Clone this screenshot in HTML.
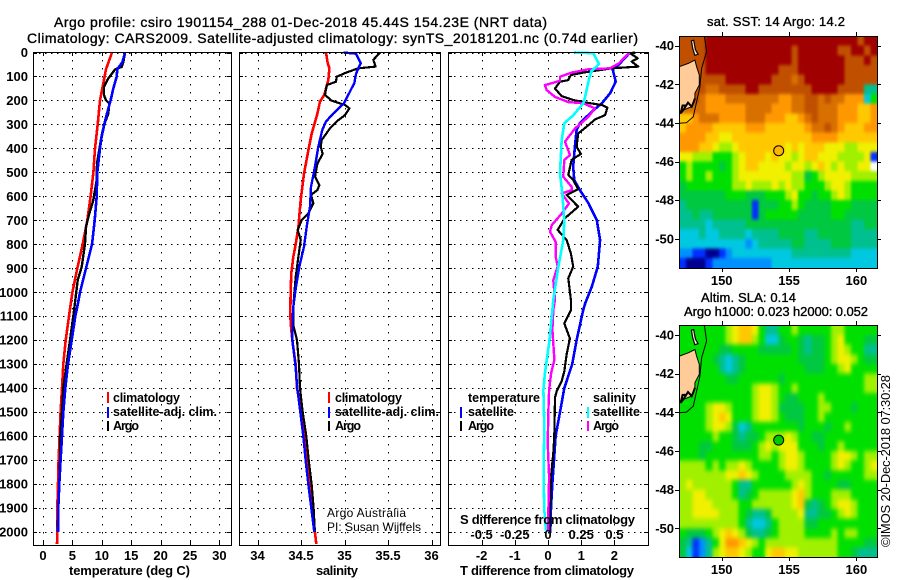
<!DOCTYPE html>
<html lang="en">
<head>
<meta charset="utf-8">
<title>Argo profile</title>
<style>
html,body{margin:0;padding:0;background:#fff;}
svg{display:block;}
text{font-family:"Liberation Sans",sans-serif;fill:#000;}
.b{font-size:13px;font-weight:bold;}
.l{font-size:12.5px;font-weight:bold;}
.tt{font-size:14px;font-weight:normal;stroke:#000;stroke-width:.35px;}
.n{font-size:13px;font-weight:normal;}
</style>
</head>
<body>
<svg id="chart" xmlns="http://www.w3.org/2000/svg" width="900" height="580" viewBox="0 0 900 580">
  <defs>
    <filter id="blurSst" x="-5%" y="-5%" width="110%" height="110%" color-interpolation-filters="sRGB"><feGaussianBlur stdDeviation="1.3 1.6"/></filter>
    <filter id="blurSla" x="-5%" y="-5%" width="110%" height="110%" color-interpolation-filters="sRGB"><feGaussianBlur stdDeviation="1.8 2.4"/></filter>
  </defs>
  <rect x="0" y="0" width="900" height="580" fill="#fff"/>
  <text class="tt" x="54" y="27" textLength="493" lengthAdjust="spacing">Argo profile: csiro 1901154_288 01-Dec-2018 45.44S 154.23E (NRT data)</text>
  <text class="tt" x="27" y="43" textLength="611" lengthAdjust="spacing">Climatology: CARS2009. Satellite-adjusted climatology: synTS_20181201.nc (0.74d earlier)</text>
  <g id="panels"></g>
  <g id="maps"></g>

  <text class="b" x="69" y="575" textLength="121" lengthAdjust="spacing">temperature (deg C)</text>
  <text class="b" x="316" y="575" textLength="42" lengthAdjust="spacing">salinity</text>
  <text class="b" x="460" y="575" textLength="174" lengthAdjust="spacing">T difference from climatology</text>
  <text class="b" x="460" y="524" textLength="175" lengthAdjust="spacing">S difference from climatology</text>

  <g>
    <rect x="107" y="392" width="2" height="11" fill="#f00"/>
    <text class="l" x="113" y="402" textLength="67" lengthAdjust="spacing">climatology</text>
    <rect x="107" y="407" width="2" height="11" fill="#00f"/>
    <text class="l" x="113" y="416" textLength="104" lengthAdjust="spacing">satellite-adj. clim.</text>
    <rect x="107" y="421" width="2" height="10" fill="#000"/>
    <text class="l" x="113" y="430" textLength="26" lengthAdjust="spacing">Argo</text>
  </g>
  <g>
    <rect x="328" y="392" width="2" height="11" fill="#f00"/>
    <text class="l" x="335" y="402" textLength="67" lengthAdjust="spacing">climatology</text>
    <rect x="328" y="407" width="2" height="11" fill="#00f"/>
    <text class="l" x="335" y="416" textLength="104" lengthAdjust="spacing">satellite-adj. clim.</text>
    <rect x="328" y="421" width="2" height="10" fill="#000"/>
    <text class="l" x="335" y="430" textLength="26" lengthAdjust="spacing">Argo</text>
  </g>
  <g>
    <text class="l" x="468" y="402" textLength="72" lengthAdjust="spacing">temperature</text>
    <rect x="460" y="407" width="2" height="11" fill="#00f"/>
    <text class="l" x="468" y="416" textLength="46" lengthAdjust="spacing">satellite</text>
    <rect x="460" y="421" width="2" height="10" fill="#000"/>
    <text class="l" x="468" y="430" textLength="26" lengthAdjust="spacing">Argo</text>
    <text class="l" x="593" y="402" textLength="43" lengthAdjust="spacing">salinity</text>
    <rect x="587" y="407" width="2" height="11" fill="#0ff"/>
    <text class="l" x="593" y="416" textLength="47" lengthAdjust="spacing">satellite</text>
    <rect x="587" y="421" width="2" height="10" fill="#f0f"/>
    <text class="l" x="593" y="430" textLength="26" lengthAdjust="spacing">Argo</text>
  </g>

  <text class="n" x="327" y="517" textLength="79" lengthAdjust="spacing" style="font-size:12px">Argo Australia</text>
  <text class="n" x="327" y="531" textLength="94" lengthAdjust="spacing" style="font-size:12px">PI: Susan Wijffels</text>

  <text class="tt" x="707" y="26" textLength="138" lengthAdjust="spacing" style="font-size:13px">sat. SST: 14 Argo: 14.2</text>
  <text class="tt" x="701" y="302" textLength="95" lengthAdjust="spacing" style="font-size:13px">Altim. SLA: 0.14</text>
  <text class="tt" x="684" y="316" textLength="184" lengthAdjust="spacing" style="font-size:13px">Argo h1000: 0.023 h2000: 0.052</text>
  <text class="n" transform="translate(890,547) rotate(-90)" textLength="172" lengthAdjust="spacing">©IMOS 20-Dec-2018 07:30:28</text>
</svg>
<script>
// ---------- axis values ----------
const depthTicks = [0,100,200,300,400,500,600,700,800,900,1000,1100,1200,1300,1400,1500,1600,1700,1800,1900,2000];
const tempTicks = [0,5,10,15,20,25,30];
const salTicks = [34,34.5,35,35.5,36];
const salTickLabels = ['34','34.5','35','35.5','36'];
const diffTTicks = [-2,-1,0,1,2];
const diffSTicks = [-0.5,-0.25,0,0.25,0.5];
const diffSTickLabels = ['-0.5','-0.25','0','0.25','0.5'];
const lonTicks = [150,155,160];
const latTicks = [-40,-42,-44,-46,-48,-50];

// ---------- temperature panel ----------
const tempClimDepth = [0,70,200,300,400,500,600,700,800,900,1000,1100,1200,1300,1400,1500,1600,1700,1800,1900,2000,2050];
const tempClim = [11.73,10.71,9.7,9.3,8.85,8.57,8.1,7.54,6.75,5.84,5.0,4.42,3.86,3.46,3.23,3.0,2.83,2.66,2.55,2.44,2.44,2.38];
const tempSatDepth = [0,40,70,100,150,200,250,300,350,400,500,600,700,800,900,1000,1040,1100,1200,1300,1400,1500,1600,1700,1800,1900,2000];
const tempSat = [13.96,13.5,12.64,12.53,11.96,11.5,10.94,10.43,9.98,9.7,9.24,9.13,8.79,8.33,7.31,6.29,6,5.5,4.88,4.25,3.8,3.46,3.23,3,2.78,2.6,2.55];
const tempArgoDepth = [0,40,60,71,108,143,178,199,213,255,303,345,463,533,574,616,672,727,797,894,950,1033,1100,1200,1300,1400,1500,1600,1700,1800,1900,2000];
const tempArgo = [13.96,13.66,13.38,12.25,11.11,10.37,10.37,10.71,11.28,11.11,10.37,9.98,9.18,9.13,8.84,8.56,7.88,7.31,7.14,6.58,5.9,5.5,5.16,4.59,4.02,3.46,3.23,2.95,2.89,2.78,2.6,2.49];

// ---------- salinity panel ----------
const salClimDepth = [0,44,66,115,177,205,255,338,394,505,615,727,800,852,921,1005,1100,1143,1200,1300,1400,1500,1600,1700,1800,1900,2000,2050];
const salClim = [34.787,34.807,34.826,34.814,34.768,34.718,34.688,34.623,34.592,34.535,34.496,34.47,34.439,34.412,34.389,34.381,34.377,34.385,34.40,34.438,34.454,34.507,34.546,34.565,34.6,34.63,34.66,34.676];
const salSatDepth = [0,5,45,66,90,128,157,212,254,288,323,393,476,560,643,727,810,894,977,1060,1116,1200,1300,1400,1500,1600,1700,1800,1900,2000];
const salSat = [34.987,35.132,35.186,35.159,35.132,35.113,35.071,34.994,34.872,34.787,34.745,34.699,34.661,34.615,34.604,34.565,34.535,34.481,34.443,34.412,34.404,34.40,34.434,34.457,34.492,34.526,34.553,34.584,34.618,34.653];
const salArgoDepth = [0,31,59,66,83,101,122,136,177,201,219,233,261,282,316,365,393,423,463,518,553,574,594,629,671,699,740,782,852,935,1060,1102,1143,1200,1300,1400,1500,1600,1700,1800,1900,2000];
const salArgo = [35.408,35.331,35.358,35.159,35.025,34.91,34.902,34.795,34.776,34.853,35.006,35.056,35.006,34.929,34.833,34.738,34.726,34.749,34.688,34.661,34.711,34.688,34.615,34.642,34.584,34.508,34.462,34.496,34.47,34.439,34.412,34.412,34.415,34.454,34.477,34.488,34.519,34.561,34.588,34.622,34.645,34.66];

// ---------- difference panel ----------
const diffTSatDepth = [0,52,70,122,170,212,247,295,323,393,476,532,574,629,699,782,893,977,1046,1074,1200,1300,1400,1500,1600,1700,1800,1900,2000];
const diffTSat = [2.47,2.12,1.95,2.04,1.87,1.62,1.32,0.96,0.86,0.81,0.76,0.79,0.96,1.22,1.47,1.57,1.5,1.32,1.12,1.06,0.86,0.73,0.49,0.36,0.23,0.18,0.13,0.09,0.07];
const diffTArgoDepth = [0,3,24,38,59,66,84,94,115,122,150,182,198,208,219,230,261,279,303,338,393,423,448,510,532,570,594,643,691,740,782,838,893,942,1032,1074,1130,1193,1260,1330,1372,1414,1440,1600,1670,1770,1910,1994];
const diffTArgo = [2.62,2.47,2.70,2.52,2.72,1.92,1.06,0.69,0.61,0.36,0.21,0.41,0.76,1.11,1.62,1.79,1.72,1.42,1.22,0.91,0.86,0.99,0.71,0.61,0.76,0.91,0.56,0.91,0.51,0.29,0.56,0.69,0.76,0.61,0.69,0.69,0.49,0.66,0.56,0.49,0.41,0.26,0.21,0.19,0.16,0.09,0.06,0.05];
const diffSArgoDepth = [0,45,66,70,84,101,118,136,157,185,207,212,233,268,317,372,428,448,518,560,574,588,630,672,720,748,790,852,893,949,1032,1074,1157,1282,1338,1408,1491,1630,1770,1908,1994];
const diffSArgo = [0.612,0.535,0.467,0.304,0.178,0.09,0.09,-0.023,-0.01,0.053,0.153,0.266,0.354,0.304,0.203,0.128,0.166,0.123,0.115,0.178,0.178,0.103,0.158,0.103,0.028,0.015,0.058,0.058,0.073,0.04,0.053,0.04,0.033,0.048,0.023,0.008,0.003,-0.002,0.008,0.003,0.003];
const diffSSatDepth = [0,3,48,80,122,185,212,261,295,365,504,588,699,782,893,1032,1074,1213,1338,1408,1560,1770,1908,1994];
const diffSSat = [0.198,0.341,0.384,0.324,0.304,0.279,0.266,0.191,0.123,0.103,0.09,0.108,0.123,0.115,0.078,0.04,0.033,0.008,-0.023,-0.035,-0.028,-0.033,-0.028,-0.015];

// ---------- map values (colour-band index, -1 = no data) ----------
const sstRows = [
[12,12,12,12,13,13,13,13,13,13,13,13,13,13,13,13,13,13,13,13,13,13,13,13,13,13,13,12,13,13],
[12,12,12,12,13,13,13,13,13,13,13,13,13,13,13,13,13,12,13,13,13,13,13,13,12,12,13,13,12,13],
[12,12,12,12,13,13,13,13,13,13,13,13,13,13,13,13,13,12,13,13,13,13,13,13,13,12,12,12,13,12],
[12,12,12,12,13,13,13,13,13,13,13,13,13,13,13,12,12,12,13,13,13,13,13,13,13,12,12,12,12,12],
[12,12,12,12,12,12,12,13,13,13,13,13,13,13,12,12,12,11,12,13,13,13,13,13,13,12,12,12,12,12],
[12,12,12,12,11,11,12,12,12,12,13,13,12,12,12,12,12,12,12,12,13,13,13,13,12,12,12,12,4,4],
[12,12,12,11,10,10,10,11,11,11,11,11,11,11,11,10,10,11,11,12,12,11,12,11,11,10,10,10,3,6],
[11,11,11,11,10,10,10,10,10,10,11,11,11,11,10,10,10,11,11,12,12,11,11,11,10,10,10,9,9,10],
[9,9,10,11,11,11,10,10,10,10,11,11,11,10,10,10,9,9,10,11,12,11,11,11,10,10,10,9,9,10],
[9,10,10,10,10,9,9,9,9,9,10,10,10,9,9,9,9,9,9,10,11,11,12,11,10,9,9,9,10,10],
[10,10,10,10,9,9,8,8,9,9,9,9,9,9,9,9,9,9,9,9,10,10,10,10,9,9,9,9,9,9],
[10,10,10,9,9,8,7,7,8,9,9,9,9,9,9,9,8,9,8,9,9,9,8,8,8,7,7,8,8,8],
[8,8,7,7,7,6,6,6,7,8,9,9,9,8,9,8,8,7,8,9,9,8,8,8,7,7,7,7,8,1],
[6,7,6,6,6,6,5,6,7,8,9,9,8,8,8,8,7,8,8,7,8,9,8,7,8,7,7,8,8,-1],
[6,7,6,6,7,6,6,6,7,8,8,8,8,8,8,8,8,7,7,5,6,7,8,8,8,8,7,7,7,7],
[5,6,6,6,6,6,6,6,7,7,8,7,7,7,8,7,8,7,7,6,6,6,7,8,8,7,6,6,6,6],
[5,5,5,5,5,5,5,6,6,6,5,5,5,6,6,6,7,8,6,6,5,6,6,7,8,7,6,6,6,6],
[4,5,5,5,5,5,5,5,5,5,5,1,5,5,5,6,6,7,6,5,5,5,5,6,6,6,5,5,5,5],
[4,4,5,4,4,5,5,5,5,5,5,1,5,6,6,6,6,6,5,5,5,5,5,6,6,5,5,5,5,5],
[4,4,4,4,3,4,4,4,4,4,5,5,5,5,5,5,5,5,5,5,5,5,5,5,5,5,4,4,5,5],
[3,3,3,4,3,3,4,4,4,4,3,4,4,4,4,5,5,5,5,4,4,5,5,5,5,5,4,4,4,4],
[3,3,3,3,3,3,3,3,3,3,2,3,4,4,4,4,4,5,5,4,4,4,4,5,5,5,4,4,4,4],
[2,2,1,1,0,0,1,2,3,3,3,3,3,3,3,3,3,4,4,4,4,4,4,4,4,4,3,3,3,3],
[1,0,0,0,1,2,2,2,2,2,2,2,2,2,3,3,3,3,3,3,3,3,3,3,3,3,3,3,3,3]
];
const slaRows = [
[6,6,6,6,6,6,6,7,8,9,9,8,6,4,4,6,6,7,6,6,6,6,6,7,7,6,6,6,6,6],
[6,6,6,6,6,6,6,7,8,9,9,7,6,3,3,5,6,6,5,4,5,5,6,7,8,6,6,6,5,5],
[6,6,6,6,6,6,5,5,6,6,6,6,5,5,5,5,5,6,5,4,5,5,6,7,8,7,6,6,4,4],
[6,6,6,6,6,5,4,3,4,5,6,6,6,6,6,6,6,6,5,5,5,5,6,7,8,8,7,6,5,5],
[6,6,6,6,6,6,4,3,4,5,6,6,6,6,6,6,6,6,6,5,5,5,6,6,7,8,6,6,6,6],
[6,6,6,6,6,6,6,5,5,6,6,6,6,6,6,5,6,6,6,6,6,6,6,6,6,6,6,6,7,7],
[6,6,6,6,6,6,6,6,6,6,6,7,8,8,7,6,6,7,6,6,6,6,6,6,6,6,6,6,7,7],
[6,6,6,6,6,6,6,6,6,6,6,7,8,8,7,6,5,5,6,6,6,7,6,6,6,6,6,6,6,6],
[6,6,6,6,7,8,8,7,6,6,6,7,8,8,7,5,5,5,5,6,6,7,7,6,6,6,5,6,6,6],
[6,6,6,6,7,8,9,8,6,6,6,7,8,8,7,6,5,5,5,6,6,7,6,6,6,6,6,6,6,6],
[6,6,6,6,7,8,8,7,5,3,4,6,6,6,6,6,6,6,5,6,6,6,5,6,6,7,6,6,6,6],
[6,6,6,6,6,7,6,6,5,4,5,5,6,7,7,7,8,7,6,6,5,5,6,6,6,6,6,6,6,6],
[6,6,6,5,5,6,6,6,5,5,5,6,7,8,7,8,8,8,6,6,6,5,6,6,7,6,6,6,6,6],
[6,6,6,5,6,6,6,6,6,6,6,6,7,7,6,7,8,8,7,6,6,6,6,7,8,8,7,6,7,7],
[7,7,7,7,6,7,6,7,7,8,7,6,6,6,6,7,8,8,7,6,6,6,6,7,8,7,6,6,7,8],
[7,7,7,7,7,7,7,8,8,9,8,7,6,6,6,6,7,7,7,7,6,6,5,6,6,6,6,6,7,7],
[7,8,7,7,7,7,7,7,6,4,4,6,6,6,6,6,6,7,8,7,6,6,6,6,5,5,6,6,6,6],
[7,7,8,8,7,7,7,7,6,4,5,6,7,7,7,7,7,8,9,7,6,6,6,7,7,7,6,6,6,6],
[7,7,8,8,8,7,7,7,7,6,6,7,7,7,7,7,7,8,9,5,4,5,6,7,8,8,7,6,6,6],
[7,7,8,8,8,8,7,7,7,6,5,4,4,5,7,7,7,7,8,4,4,5,5,6,7,8,7,6,6,6],
[7,7,7,7,7,7,7,7,7,6,4,3,3,4,6,7,7,7,7,5,5,6,6,6,6,6,6,6,6,6],
[6,5,5,5,6,7,8,9,8,7,5,4,4,5,6,7,7,7,7,6,6,6,6,7,6,7,7,6,6,6],
[5,4,1,2,4,6,8,10,10,9,8,7,6,7,7,7,7,7,7,7,7,7,7,7,6,6,6,6,5,5],
[5,3,1,2,4,7,8,9,9,8,7,6,6,8,9,9,8,8,7,7,7,7,7,7,6,6,5,4,4,4]
];
const landLon = [146.85,147.52,148.01,148.14,148.34,148.34,148.01,148.01,147.77,147.15,146.95,146.85];
const landLat = [-41.09,-40.92,-40.75,-41.09,-41.52,-42.04,-42.47,-42.73,-43.16,-43.33,-43.5,-43.33];
const southCoastLon = [148.01,147.9,147.77,147.5,147.15,146.95,147.1,147.4];
const southCoastLat = [-42.73,-42.95,-43.16,-42.95,-43.33,-43.5,-43.1,-43.1];
const islandLon = [147.75,147.92,148.05,148.25,148.0,147.85];
const islandLat = [-39.75,-39.72,-40.2,-40.45,-40.5,-40.14];
const contourLon = [148.71,148.88,148.51,148.38,147.89,147.39,146.85];
const contourLat = [-39.47,-40.31,-41.18,-42.13,-43.68,-43.99,-44.02];
const floatLon = 154.23;
const floatLat = -45.44;

// ---------- colour bands (style, not data) ----------
const bandColors = ['#000090','#0030ff','#0090ff','#00c8e0','#00c090','#00c840','#00e000','#a0f000','#f0f000','#ffc800','#ff9800','#d87000','#c05000','#a00000'];

// ---------- axis functions ----------
const yDepth = d => 52.5 + d * 0.23975;
const xTemp = v => 43 + v * 5.88;
const xSal = v => 257.5 + (v - 34) * 87;
const xDiffT = v => 548 + v * 33.2;
const xDiffS = v => 548 + v * 132.8;
const lonX = lon => 721.7 + (lon - 150) * 13.47;
const latY1 = lat => 45.6 + (-40 - lat) * 19.33;
const latY2 = lat => 335 + (-40 - lat) * 19.33;

const NS = 'http://www.w3.org/2000/svg';
function make(tag, parent, attrs, text) {
  const e = document.createElementNS(NS, tag);
  for (const k in attrs) e.setAttribute(k, attrs[k]);
  if (text !== undefined) e.textContent = text;
  parent.appendChild(e);
  return e;
}

const PANEL_TOP = 52;
const PANEL_BOTTOM = 545;

function gridAndTicks(g, left, right, xValues, xFn) {
  depthTicks.forEach(d => {
    const y = Math.round(yDepth(d)) + 0.5;
    const grid = make('line', g, {x1:left, x2:right, y1:y, y2:y, stroke:'#000', 'stroke-width':1, 'stroke-dasharray':'1.5 4.5', 'shape-rendering':'crispEdges'});
    
    
    const t1 = make('line', g, {x1:left, x2:left + 4, y1:y, y2:y, stroke:'#000', 'shape-rendering':'crispEdges'});
    
    
    const t2 = make('line', g, {x1:right - 4, x2:right, y1:y, y2:y, stroke:'#000', 'shape-rendering':'crispEdges'});
    
    
  });
  xValues.forEach(v => {
    const x = Math.round(xFn(v)) + 0.5;
    const grid = make('line', g, {x1:x, x2:x, y1:PANEL_TOP, y2:PANEL_BOTTOM, stroke:'#000', 'stroke-width':1, 'stroke-dasharray':'1.5 6.5', 'shape-rendering':'crispEdges'});
    
    
    const t1 = make('line', g, {x1:x, x2:x, y1:PANEL_BOTTOM - 4, y2:PANEL_BOTTOM, stroke:'#000', 'shape-rendering':'crispEdges'});
    
    
    const t2 = make('line', g, {x1:x, x2:x, y1:PANEL_TOP, y2:PANEL_TOP + 4, stroke:'#000', 'shape-rendering':'crispEdges'});
    
    
  });
}

function frame(g, left, right, name) {
  const r = make('rect', g, {x:left + 0.5, y:PANEL_TOP + 0.5, width:right - left, height:PANEL_BOTTOM - PANEL_TOP, fill:'none', stroke:'#000', 'stroke-width':1, 'shape-rendering':'crispEdges'});
  
  
}

function series(g, name, color, depths, values, xFn, width) {
  const pts = depths.map((d, i) => xFn(values[i]).toFixed(1) + ',' + yDepth(d).toFixed(1)).join(' ');
  const p = make('polyline', g, {points:pts, fill:'none', stroke:color, 'stroke-width':width, 'shape-rendering':'crispEdges', 'stroke-linejoin':'round'});
  
  
}

function xLabels(g, values, labels, xFn, y, name) {
  values.forEach((v, i) => {
    const t = make('text', g, {x:xFn(v), y:y, 'text-anchor':'middle', class:'b'}, labels[i]);
    
    
  });
}

const panels = document.getElementById('panels');

// panel 1: temperature
const p1 = make('g', panels, {});


gridAndTicks(p1, 33, 231, tempTicks, xTemp);
series(p1, 'temperature-climatology-line', '#f00', tempClimDepth, tempClim, xTemp, 2.6);
series(p1, 'temperature-argo-line', '#000', tempArgoDepth, tempArgo, xTemp, 2.4);
series(p1, 'temperature-satellite-line', '#00f', tempSatDepth, tempSat, xTemp, 2.6);
frame(p1, 33, 231, 'temperature-panel-frame');
xLabels(p1, tempTicks, tempTicks.map(String), xTemp, 560, 'temperature-tick-label');
depthTicks.forEach(d => {
  const t = make('text', p1, {x:28, y:yDepth(d) + 4.5, 'text-anchor':'end', class:'b'}, String(d));
  
  
});

// panel 2: salinity
const p2 = make('g', panels, {});


gridAndTicks(p2, 239, 440, salTicks, xSal);
series(p2, 'salinity-climatology-line', '#f00', salClimDepth, salClim, xSal, 2.6);
series(p2, 'salinity-argo-line', '#000', salArgoDepth, salArgo, xSal, 2.2);
series(p2, 'salinity-satellite-line', '#00f', salSatDepth, salSat, xSal, 2.4);
frame(p2, 239, 440, 'salinity-panel-frame');
xLabels(p2, salTicks, salTickLabels, xSal, 560, 'salinity-tick-label');

// panel 3: differences
const p3 = make('g', panels, {});


gridAndTicks(p3, 448, 648, diffTTicks, xDiffT);
series(p3, 'diff-temperature-satellite-line', '#00f', diffTSatDepth, diffTSat, xDiffT, 2.6);
series(p3, 'diff-temperature-argo-line', '#000', diffTArgoDepth, diffTArgo, xDiffT, 2.2);
series(p3, 'diff-salinity-argo-line', '#f0f', diffSArgoDepth, diffSArgo, xDiffS, 2.4);
series(p3, 'diff-salinity-satellite-line', '#0ff', diffSSatDepth, diffSSat, xDiffS, 2.6);
frame(p3, 448, 648, 'difference-panel-frame');
xLabels(p3, diffTTicks, diffTTicks.map(String), xDiffT, 560, 't-difference-tick-label');
xLabels(p3, diffSTicks, diffSTickLabels, xDiffS, 539, 's-difference-tick-label');

// maps
const LON_LEFT = 146.85;
const LON_RIGHT = 161.55;
const LAT_TOP = -39.5;
const LAT_BOTTOM = -51.5;
const mapsRoot = document.getElementById('maps');

function drawMap(name, rows, latY, markerColor, filterId) {
  const g = make('g', mapsRoot, {});
  
  
  const nr = rows.length;
  const nc = rows[0].length;
  const dLon = (LON_RIGHT - LON_LEFT) / nc;
  const dLat = (LAT_TOP - LAT_BOTTOM) / nr;
  const top = latY(LAT_TOP);
  const bottom = latY(LAT_BOTTOM);
  const left = Math.round(lonX(LON_LEFT));
  const right = Math.round(lonX(LON_RIGHT));

  const clip = make('clipPath', g, {id:name + '-clip'});
  make('rect', clip, {x:left, y:Math.round(top), width:right - left, height:Math.round(bottom) - Math.round(top)});

  const clipped = make('g', g, {'clip-path':'url(#' + name + '-clip)'});
  
  
  const cells = make('g', clipped, {id:name + '-cells'});
  
  
  rows.forEach((row, r) => {
    row.forEach((v, c) => {
      const x0 = lonX(LON_LEFT + c * dLon);
      const x1 = lonX(LON_LEFT + (c + 1) * dLon);
      const y0 = latY(LAT_TOP - r * dLat);
      const y1 = latY(LAT_TOP - (r + 1) * dLat);
      const cell = make('rect', cells, {x:x0.toFixed(2), y:y0.toFixed(2), width:(x1 - x0 + 0.4).toFixed(2), height:(y1 - y0 + 0.4).toFixed(2), fill: v < 0 ? '#fff' : bandColors[v], 'shape-rendering':'crispEdges'});
      
      
    });
  });
  const soft = make('use', clipped, {href:'#' + name + '-cells', filter:'url(#' + filterId + ')'});
  
  

  const ptsOf = (lons, lats) => lons.map((l, i) => lonX(l).toFixed(1) + ',' + latY(lats[i]).toFixed(1)).join(' ');
  const land = make('polygon', clipped, {points:ptsOf(landLon, landLat), fill:'#ffcc99', stroke:'#000', 'stroke-width':1});
  
  
  const south = make('polyline', clipped, {points:ptsOf(southCoastLon, southCoastLat), fill:'none', stroke:'#000', 'stroke-width':2});
  
  
  const isl = make('polygon', clipped, {points:ptsOf(islandLon, islandLat), fill:'#ffe8d0', stroke:'#000', 'stroke-width':1.2});
  
  
  const con = make('polyline', clipped, {points:ptsOf(contourLon, contourLat), fill:'none', stroke:'#000', 'stroke-width':1});
  
  
  const m = make('circle', g, {cx:lonX(floatLon), cy:latY(floatLat), r:5, fill:markerColor, stroke:'#000', 'stroke-width':1});
  
  
  const f = make('rect', g, {x:left + 0.5, y:Math.round(top) + 0.5, width:right - left, height:Math.round(bottom) - Math.round(top), fill:'none', stroke:'#000', 'shape-rendering':'crispEdges'});
  
  
  lonTicks.forEach(v => {
    const x = Math.round(lonX(v)) + 0.5;
    const t1 = make('line', g, {x1:x, x2:x, y1:Math.round(bottom), y2:Math.round(bottom) + 4, stroke:'#000', 'shape-rendering':'crispEdges'});
    
    
    const t2 = make('line', g, {x1:x, x2:x, y1:Math.round(top) - 4, y2:Math.round(top), stroke:'#000', 'shape-rendering':'crispEdges'});
    
    
    const lab = make('text', g, {x:lonX(v), y:Math.round(bottom) + 17, 'text-anchor':'middle', class:'b'}, String(v));
    
    
  });
  latTicks.forEach(v => {
    const y = Math.round(latY(v)) + 0.5;
    const t1 = make('line', g, {x1:left - 4, x2:left, y1:y, y2:y, stroke:'#000', 'shape-rendering':'crispEdges'});
    
    
    const t2 = make('line', g, {x1:right, x2:right + 4, y1:y, y2:y, stroke:'#000', 'shape-rendering':'crispEdges'});
    
    
    const lab = make('text', g, {x:left - 5, y:latY(v) + 4.5, 'text-anchor':'end', class:'b'}, String(v));
    
    
  });
}
drawMap('sst-map', sstRows, latY1, '#ffb400', 'blurSst');
drawMap('sla-map', slaRows, latY2, '#00c800', 'blurSla');
</script>
</body>
</html>
